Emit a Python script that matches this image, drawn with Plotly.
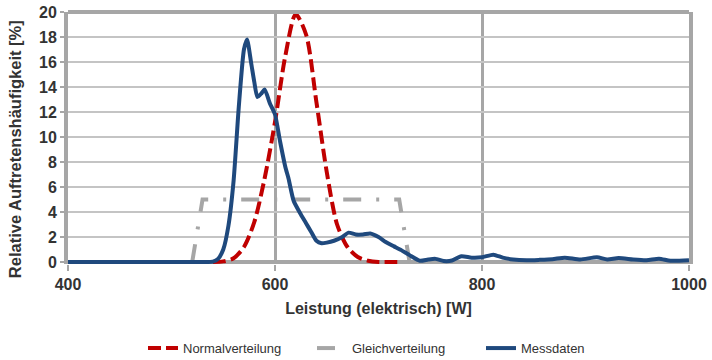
import plotly.graph_objects as go

# Leistung [W] / relative Häufigkeit [%]
norm_x = [540, 550, 560, 570, 580, 590, 600, 610, 620, 630, 640, 650, 660, 670, 680, 690, 700, 710, 720]
norm_y = [0.0, 0.05, 0.3, 1.2, 3.2, 6.7, 11.2, 16.5, 19.8, 18.2, 12.8, 7.2, 3.0, 1.2, 0.4, 0.1, 0.0, 0.0, 0.0]

gleich_x = [520, 530, 720, 730]
gleich_y = [0.0, 5.0, 5.0, 0.0]

mess_x = [400, 530, 540, 545, 550, 555, 560, 565, 570, 573, 577, 580, 583, 587, 590, 595, 600,
          605, 610, 613, 618, 625, 630, 635, 640, 645, 650, 657, 665, 671, 678, 685, 692, 700,
          707, 715, 722, 730, 740, 748, 755, 763, 771, 780, 790, 800, 811, 820, 830, 843, 855,
          868, 880, 895, 911, 921, 932, 946, 959, 971, 982, 1000]
mess_y = [0.0, 0.0, 0.03, 0.25, 1.0, 2.9, 6.5, 12.4, 17.0, 17.8, 15.9, 14.4, 13.2, 13.5, 13.8, 12.7, 11.8,
          9.6, 7.6, 6.7, 4.9, 3.8, 3.1, 2.4, 1.7, 1.5, 1.55, 1.7, 2.0, 2.35, 2.2, 2.2, 2.28, 2.0,
          1.6, 1.25, 0.95, 0.55, 0.1, 0.2, 0.25, 0.08, 0.12, 0.46, 0.35, 0.38, 0.59, 0.35, 0.2, 0.14, 0.17,
          0.22, 0.35, 0.2, 0.38, 0.2, 0.32, 0.2, 0.14, 0.27, 0.1, 0.14]

x_ticks = [400, 600, 800, 1000]
y_ticks = [0, 2, 4, 6, 8, 10, 12, 14, 16, 18, 20]

RED = "#C00000"
GRAY = "#A6A6A6"
BLUE = "#1F497D"
TEXT = "#333333"
FONT = "Liberation Sans, Arial, sans-serif"

fig = go.Figure()
fig.add_trace(go.Scatter(
    x=norm_x, y=norm_y, mode="lines", name="Normalverteilung",
    line=dict(color=RED, width=4, dash="13px,5px", shape="spline", smoothing=0.8),
))
fig.add_trace(go.Scatter(
    x=gleich_x, y=gleich_y, mode="lines", name="Gleichverteilung",
    line=dict(color=GRAY, width=4, dash="18px,15px,3px,15px"),
))
fig.add_trace(go.Scatter(
    x=mess_x, y=mess_y, mode="lines", name="Messdaten",
    line=dict(color=BLUE, width=4, shape="spline", smoothing=0.6),
))

fig.update_layout(
    width=712, height=360,
    margin=dict(l=68, r=23, t=12, b=96, autoexpand=False),
    paper_bgcolor="white", plot_bgcolor="white",
    font=dict(family=FONT, color=TEXT),
    showlegend=True,
    legend=dict(
        orientation="h", xref="container", yref="container",
        x=143 / 712, xanchor="left", y=0.033, yanchor="middle",
        entrywidth=124, entrywidthmode="pixels",
        font=dict(size=13, color=TEXT), traceorder="normal",
    ),
    xaxis=dict(
        range=[400, 1000], tickvals=x_ticks, ticktext=[str(v) for v in x_ticks],
        showgrid=True, gridcolor=GRAY, gridwidth=2.5,
        showline=False, zeroline=False, automargin=False,
        ticks="outside", ticklen=6, tickwidth=2, tickcolor=GRAY,
        tickfont=dict(size=16, color=TEXT, family=FONT, weight="bold"),
        title=dict(text="<b>Leistung (elektrisch) [W]</b>", font=dict(size=16, color=TEXT), standoff=10),
    ),
    yaxis=dict(
        range=[-0.16, 20], tickvals=y_ticks, ticktext=[str(v) for v in y_ticks],
        showgrid=True, gridcolor="#C4C4C4", gridwidth=1.5,
        showline=True, mirror=True, linecolor=GRAY, linewidth=4,
        zeroline=True, zerolinecolor=GRAY, zerolinewidth=4, automargin=False,
        ticks="outside", ticklen=4, tickwidth=2, tickcolor=GRAY,
        tickfont=dict(size=16, color=TEXT, family=FONT, weight="bold"),
    ),
    shapes=[dict(type="line", xref="paper", yref="paper", x0=0, x1=1, y0=1, y1=1,
                 line=dict(color=GRAY, width=4), layer="above")],
    annotations=[dict(
        text="<b>Relative Auftretenshäufigkeit [%]</b>", textangle=-90,
        xref="paper", yref="paper", x=-0.084, y=0.455, xanchor="center", yanchor="middle",
        showarrow=False, font=dict(size=16.5, color=TEXT),
    )],
)

fig.write_html("out.html")
